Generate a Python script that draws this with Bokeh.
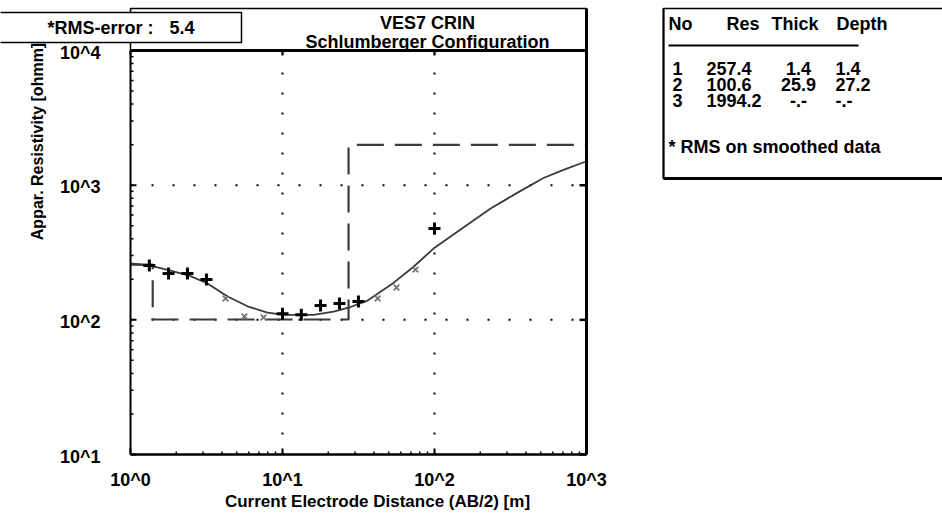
import math
from bokeh.plotting import figure
from bokeh.models import Range1d, LinearScale
from bokeh.core.properties import value
from bokeh.embed import file_html
from bokeh.resources import INLINE

# ---------------- data ----------------
x_ticks = [1, 10, 100, 1000]
x_tick_labels = ["10^0", "10^1", "10^2", "10^3"]
y_ticks = [10, 100, 1000, 10000]
y_tick_labels = ["10^1", "10^2", "10^3", "10^4"]

# measured apparent resistivity ("+")
meas_x = [1.33, 1.78, 2.37, 3.16, 10.0, 13.3, 17.8, 23.7, 31.6, 100.0]
meas_y = [253, 221, 221, 199, 111, 109, 128, 132, 137, 476]
# smoothed points ("x")
smooth_x = [4.22, 5.62, 7.5, 42.2, 56.2, 75.0]
smooth_y = [144, 106, 104, 144, 174, 236]

# calculated model curve (solid line)
curve_x = [1.0, 1.35, 1.83, 2.44, 3.21, 4.35, 5.89, 7.97, 10.2, 16.0, 21.7,
           27.2, 36.3, 53.7, 72.8, 98.5, 155, 234, 352, 521, 706, 1000]
curve_y = [262, 253, 232, 213, 186, 149, 126, 113, 109, 109, 115,
           123, 139, 188, 248, 338, 484, 670, 880, 1130, 1300, 1505]

# layered model
layer_no = [1, 2, 3]
layer_res = [257.4, 100.6, 1994.2]
layer_thick = [1.4, 25.9]
layer_depth = [1.4, 27.2]
rms_error = 5.4

title_line1 = "VES7 CRIN"
title_line2 = "Schlumberger Configuration"
x_label = "Current Electrode Distance (AB/2) [m]"
y_label = "Appar. Resistivity [ohmm]"
legend_header = ["No", "Res", "Thick", "Depth"]
legend_note = "* RMS on smoothed data"

# ---------------- layout constants (pixels) ----------------
W, H = 942, 514
PL, PR, PT, PB = 130, 586, 50, 454          # plot frame edges
FONT = value("Liberation Sans")
FS = "18px"

lx0, lx1 = math.log10(x_ticks[0]), math.log10(x_ticks[-1])
ly0, ly1 = math.log10(y_ticks[0]), math.log10(y_ticks[-1])
DX = (PR - PL) / (lx1 - lx0)
DY = (PB - PT) / (ly1 - ly0)

p = figure(width=W, height=H, x_axis_type="log", y_axis_type="log",
           x_range=Range1d(10 ** (lx0 - PL / DX), 10 ** (lx1 + (W - PR) / DX)),
           y_range=Range1d(10 ** (ly0 - (H - PB) / DY), 10 ** (ly1 + PT / DY)),
           x_axis_location=None, y_axis_location=None,
           output_backend="svg", toolbar_location=None, min_border=0,
           background_fill_color="white", border_fill_color="white")
p.outline_line_color = None
p.grid.visible = False
p.extra_x_ranges = {"px": Range1d(0, W)}
p.extra_y_ranges = {"px": Range1d(H, 0)}
p.extra_x_scales = {"px": LinearScale()}
p.extra_y_scales = {"px": LinearScale()}
PX = dict(x_range_name="px", y_range_name="px")


def ptext(x, y, txt, size=FS, align="left", angle=0.0):
    p.text(x=[x], y=[y], text=[txt], angle=angle, text_font=FONT,
           text_font_style="bold", text_font_size=size, text_align=align,
           text_baseline="middle", text_color="black", **PX)


def pline(xs, ys, w=1.5, color="black"):
    p.line(xs, ys, line_color=color, line_width=w, **PX)


def minor(ticks):
    out = []
    for t in ticks[:-1]:
        out += [t * m for m in range(2, 10)]
    return out


xmin, xmax = x_ticks[0], x_ticks[-1]
ymin, ymax = y_ticks[0], y_ticks[-1]

# dotted grid at inner decades
p.multi_line([[t, t] for t in x_ticks[1:-1]], [[ymin, ymax]] * (len(x_ticks) - 2),
             line_color="black", line_width=2, line_dash="2 18")
p.multi_line([[xmin, xmax]] * (len(y_ticks) - 2), [[t, t] for t in y_ticks[1:-1]],
             line_color="black", line_width=2, line_dash="2 19")

# model step line built from the layer table
step_x = [xmin]
step_y = [layer_res[0]]
for i, d in enumerate(layer_depth):
    step_x += [d, d]
    step_y += [layer_res[i], layer_res[i + 1]]
step_x.append(xmax)
step_y.append(layer_res[-1])
p.line(step_x, step_y, line_color="#3c3c3c", line_width=2.2, line_dash="27 11")

# computed curve
p.line(curve_x, curve_y, line_color="#3a3a3a", line_width=1.8, line_join="round")

# data points
p.scatter(smooth_x, smooth_y, marker="x", size=8, line_width=1.8, line_color="#767676")
p.scatter(meas_x, meas_y, marker="cross", size=12, line_width=3, line_color="black")

# frame / axes lines
p.line([xmin, xmin], [ymin, ymax], line_color="black", line_width=2)
p.line([xmin, xmax], [ymin, ymin], line_color="black", line_width=2.5)
p.line([xmin, xmax], [ymax, ymax], line_color="black", line_width=3)
p.line([xmax, xmax], [ymin, ymax], line_color="black", line_width=3)

# ticks (inward)
p.ray(x=x_ticks, y=[ymin] * len(x_ticks), length=6, angle=math.pi / 2,
      length_units="screen", line_color="black", line_width=2)
p.ray(x=minor(x_ticks), y=[ymin] * len(minor(x_ticks)), length=3, angle=math.pi / 2,
      length_units="screen", line_color="black", line_width=1.5)
p.ray(x=[xmin] * len(y_ticks), y=y_ticks, length=6, angle=0,
      length_units="screen", line_color="black", line_width=2)
p.ray(x=[xmin] * len(minor(y_ticks)), y=minor(y_ticks), length=3, angle=0,
      length_units="screen", line_color="black", line_width=1.5)
p.ray(x=x_ticks, y=[ymax] * len(x_ticks), length=5, angle=-math.pi / 2,
      length_units="screen", line_color="black", line_width=2)
p.ray(x=[xmax] * len(y_ticks), y=y_ticks, length=7, angle=math.pi,
      length_units="screen", line_color="black", line_width=2.5)

# tick labels
p.text(x=x_ticks, y=[ymin] * len(x_ticks), text=x_tick_labels, y_offset=25,
       text_font=FONT, text_font_style="bold", text_font_size=FS,
       text_align="center", text_baseline="middle", text_color="black")
p.text(x=[xmin] * len(y_ticks), y=y_ticks, text=y_tick_labels, x_offset=-30, y_offset=2,
       text_font=FONT, text_font_style="bold", text_font_size=FS,
       text_align="right", text_baseline="middle", text_color="black")

# axis titles
ptext(377, 501, x_label, "17px", "center")
ptext(37, 141, y_label, "16px", "center", angle=math.pi / 2)

# title box
pline([PL, PL, PR, PR], [PT, 8, 8, PT], 1.5)
pline([PR, PR], [8, PT], 3)
ptext(427, 22, title_line1, FS, "center")
ptext(427, 41, title_line2, FS, "center")

# RMS box (drawn over the title box corner)
p.quad(left=[-5], right=[241], top=[12], bottom=[42], fill_color="white",
       line_color="black", line_width=1.5, **PX)
ptext(47, 27, "*RMS-error :", FS, "left")
ptext(169, 27, f"{rms_error}", FS, "left")

# legend table
p.quad(left=[663], right=[960], top=[8], bottom=[178], fill_color="white",
       line_color="black", line_width=1.5, **PX)
pline([663, 960], [178, 178], 3)
pline([663, 663], [8, 178], 2)
head_x = [668, 726, 771, 836]
for hx, ht in zip(head_x, legend_header):
    ptext(hx, 23, ht)
pline([668, 858], [45, 45], 2)
row_y = [68, 84, 100]
for i, n in enumerate(layer_no):
    yy = row_y[i]
    ptext(672, yy, str(n))
    ptext(706, yy, f"{layer_res[i]:.1f}")
    th = f"{layer_thick[i]:.1f}" if i < len(layer_thick) else "-.-"
    dp = f"{layer_depth[i]:.1f}" if i < len(layer_depth) else "-.-"
    ptext(798, yy, th, align="center")
    ptext(835, yy, dp)
ptext(668, 146, legend_note)

open("out.html", "w").write(file_html(p, INLINE))
